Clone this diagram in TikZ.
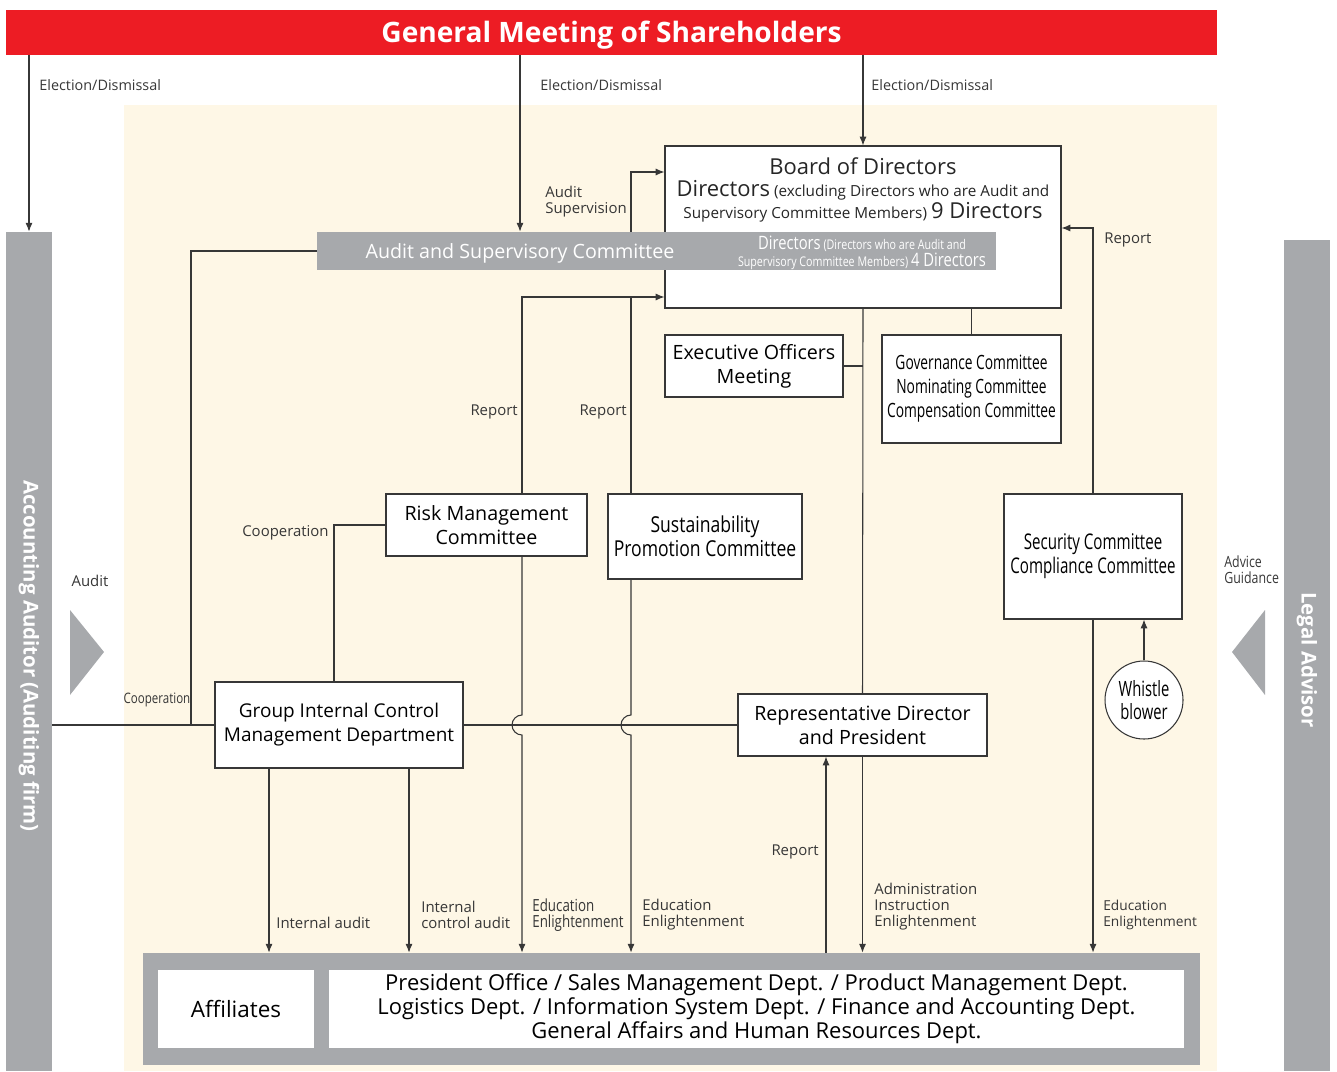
\documentclass[tikz,border=0pt]{standalone}
\usepackage{fontspec}
\setmainfont{Open Sans}
\newfontfamily\condfont[FakeStretch=0.8]{Open Sans}
\newfontfamily\narrowfont[FakeStretch=0.7]{Open Sans}
\usetikzlibrary{arrows.meta}
\definecolor{gmsred}{RGB}{237,28,36}
\definecolor{cream}{RGB}{254,247,230}
\definecolor{bargrey}{RGB}{167,169,172}
\definecolor{linec}{RGB}{55,55,55}
\newcommand{\upx}{0.02cm}
\newcommand{\bigdir}[1]{{\fontsize{12.5}{13}\selectfont #1}}
\tikzset{
  box/.style={draw=linec, fill=white, line width=0.6pt, inner sep=0pt, align=center, font=\fontsize{11.2}{13.6}\selectfont},
  condbox/.style={box, font=\condfont\fontsize{12.5}{13.6}\selectfont},
  narrowbox/.style={box, font=\narrowfont\fontsize{11.2}{13.6}\selectfont},
  lbl/.style={inner sep=0pt, yshift=-0.055cm, align=left, font=\fontsize{8.5}{9.2}\selectfont, text=linec},
  condlbl/.style={lbl, font=\condfont\fontsize{9.5}{9.2}\selectfont},
  conn/.style={draw=linec, line width=0.6pt},
  arr/.style={conn, -{Latex[length=5pt,width=4pt]}},
  greybar/.style={fill=bargrey, inner sep=0pt},
  bartxt/.style={inner sep=0pt, text=white, font=\bfseries\fontsize{11.6}{13}\selectfont},
}

\begin{document}
\begin{tikzpicture}[x=\upx, y=-\upx]
    \useasboundingbox (0,0) rectangle (1337,1071);
    \fill[cream] (124,105) rectangle (1217,1071);

    % top and side bars
    \node[fill=gmsred, inner sep=0pt, minimum width=1211*\upx, minimum height=45*\upx, text height=11.4pt, text depth=0pt,
          text=white, font=\bfseries\fontsize{16}{18}\selectfont] (gms) at (611.5,32.5) {General Meeting of Shareholders};
    \node[greybar, minimum width=46*\upx, minimum height=839*\upx] (acc) at (29,651.5) {};
    \node[bartxt, rotate=-90] at (29,656) {Accounting Auditor (Auditing firm)};
    \node[greybar, minimum width=46*\upx, minimum height=831*\upx] (legal) at (1307,655.5) {};
    \node[bartxt, rotate=-90] at (1307,660) {Legal Advisor};
    \fill[bargrey] (70,610) -- (104,652) -- (70,695) -- cycle;
    \fill[bargrey] (1265,610) -- (1232,652) -- (1265,695) -- cycle;
    \node[lbl] at (90,578) {Audit};
    \node[condlbl, anchor=west, font=\condfont\fontsize{8.8}{9.2}\selectfont] at (1224,567) {Advice\\Guidance};

    % board and committees
    \node[box, minimum width=396*\upx, minimum height=162*\upx] (board) at (863,227) {};
    \node[inner sep=0pt, align=center, text=black!85, font=\fontsize{8.7}{12.6}\selectfont] (boardtxt) at (863,190)
        {\bigdir{Board of Directors}\\ \bigdir{Directors} (excluding Directors who are Audit and\\ Supervisory Committee Members) \bigdir{9 Directors}};
    \node[greybar, minimum width=679*\upx, minimum height=38*\upx] (asc) at (656.5,251) {};
    \node[inner sep=0pt, text=white, font=\fontsize{11.2}{13}\selectfont] at (520,253) {Audit and Supervisory Committee};
    \node[inner sep=0pt, text=white, align=center, font=\condfont\fontsize{7.6}{8.4}\selectfont] at (862,253)
        {{\fontsize{10.5}{8.4}\selectfont Directors} (Directors who are Audit and\\ Supervisory Committee Members) {\fontsize{10.5}{8.4}\selectfont 4 Directors}};
    \node[box, minimum width=178*\upx, minimum height=62*\upx] (eom) at (754,366) {Executive Officers\\Meeting};
    \node[narrowbox, minimum width=179*\upx, minimum height=108*\upx] (gov) at (971.5,389) {Governance Committee\\Nominating Committee\\Compensation Committee};
    \node[box, minimum width=201*\upx, minimum height=62*\upx] (risk) at (486.5,525) {Risk Management\\Committee};
    \node[condbox, minimum width=194*\upx, minimum height=85*\upx] (sust) at (705,536.5) {Sustainability\\Promotion Committee};
    \node[narrowbox, font=\narrowfont\fontsize{12.3}{13.6}\selectfont, minimum width=178*\upx, minimum height=125*\upx] (secu) at (1093,556.5) {Security Committee\\Compliance Committee};
    \node[narrowbox, font=\narrowfont\fontsize{12}{13}\selectfont, circle, minimum size=78*\upx] (wb) at (1144,700) {Whistle\\blower};
    \node[box, font=\fontsize{10.8}{13.6}\selectfont, minimum width=248*\upx, minimum height=86*\upx] (gic) at (339,725) {Group Internal Control\\Management Department};
    \node[box, minimum width=249*\upx, minimum height=62*\upx] (rdp) at (862.5,725) {Representative Director\\and President};

    % operating units
    \node[greybar, minimum width=1057*\upx, minimum height=112*\upx] (units) at (671.5,1009) {};
    \node[box, draw=none, font=\fontsize{12.8}{13.6}\selectfont, minimum width=156*\upx, minimum height=78*\upx] (aff) at (236,1009) {Affiliates};
    \node[box, draw=none, font=\fontsize{12.5}{13.6}\selectfont, minimum width=855*\upx, minimum height=78*\upx] (depts) at (756.5,1009)
        {President Office / Sales Management Dept. / Product Management Dept.\\
         Logistics Dept. / Information System Dept. / Finance and Accounting Dept.\\
         General Affairs and Human Resources Dept.};

    % election
    \draw[arr] (gms.south -| acc.north) -- (acc.north);
    \draw[arr] (gms.south -| 520,0) -- (asc.north -| 520,0);
    \draw[arr] (gms.south -| board.north) -- (board.north);
    \node[lbl, font=\fontsize{8.2}{9.2}\selectfont, anchor=west] at (39,82) {Election/Dismissal};
    \node[lbl, font=\fontsize{8.2}{9.2}\selectfont, anchor=west] at (540,82) {Election/Dismissal};
    \node[lbl, font=\fontsize{8.2}{9.2}\selectfont, anchor=west] at (871,82) {Election/Dismissal};

    % links around the board
    \draw[arr] (asc.north -| 631,0) |- (board.west |- 0,172);
    \node[lbl, anchor=west] at (545,199) {Audit\\Supervision};
    \draw[arr] (secu.north) |- (board.east |- 0,228);
    \node[lbl, anchor=west] at (1104,237) {Report};
    \draw[conn] (eom.east) -- (board.south |- eom.east);
    \draw[conn] (board.south) -- (rdp.north);
    \draw[conn] (board.south -| gov.north) -- (gov.north);
    \draw[arr] (risk.north -| 522,0) |- (board.west |- 0,297);
    \draw[conn] (sust.north -| 631,0) -- (631,297);
    \node[lbl, anchor=east] at (518,409) {Report};
    \node[lbl, anchor=east] at (627,409) {Report};

    % cooperation
    \draw[conn] (asc.west) -| (191,0 |- gic.west);
    \draw[conn] (acc.east |- gic.west) -- (gic.west);
    \node[condlbl, font=\condfont\fontsize{8.2}{9}\selectfont] at (157,697) {Cooperation};
    \draw[conn] (risk.west) -| (334,0 |- gic.north);
    \node[lbl, anchor=east] at (329,530) {Cooperation};
    \draw[conn] (gic.east) -- (rdp.west);

    % downward instructions
    \draw[arr] (risk.south -| 522,0) -- (522,715) arc[start angle=90, end angle=270, radius=10*\upx] -- (units.north -| 522,0);
    \draw[arr] (sust.south -| 631,0) -- (631,715) arc[start angle=90, end angle=270, radius=10*\upx] -- (units.north -| 631,0);
    \draw[arr] (gic.south -| 269,0) -- (units.north -| 269,0);
    \draw[arr] (gic.south -| 409,0) -- (units.north -| 409,0);
    \draw[arr] (rdp.south) -- (units.north -| rdp.south);
    \draw[arr] (units.north -| 826,0) -- (rdp.south -| 826,0);
    \draw[arr] (secu.south) -- (units.north -| secu.south);
    \draw[arr] (wb.north) -- (secu.south -| wb.north);
    \node[lbl, anchor=west] at (276,920) {Internal audit};
    \node[lbl, anchor=west] at (421,912) {Internal\\control audit};
    \node[condlbl, anchor=west] at (532,912) {Education\\Enlightenment};
    \node[lbl, anchor=west] at (642,912) {Education\\Enlightenment};
    \node[lbl, anchor=east] at (819,849) {Report};
    \node[lbl, anchor=west] at (874,904) {Administration\\Instruction\\Enlightenment};
    \node[lbl, font=\fontsize{7.8}{9.2}\selectfont, anchor=west] at (1103,912) {Education\\Enlightenment};
\end{tikzpicture}
\end{document}
